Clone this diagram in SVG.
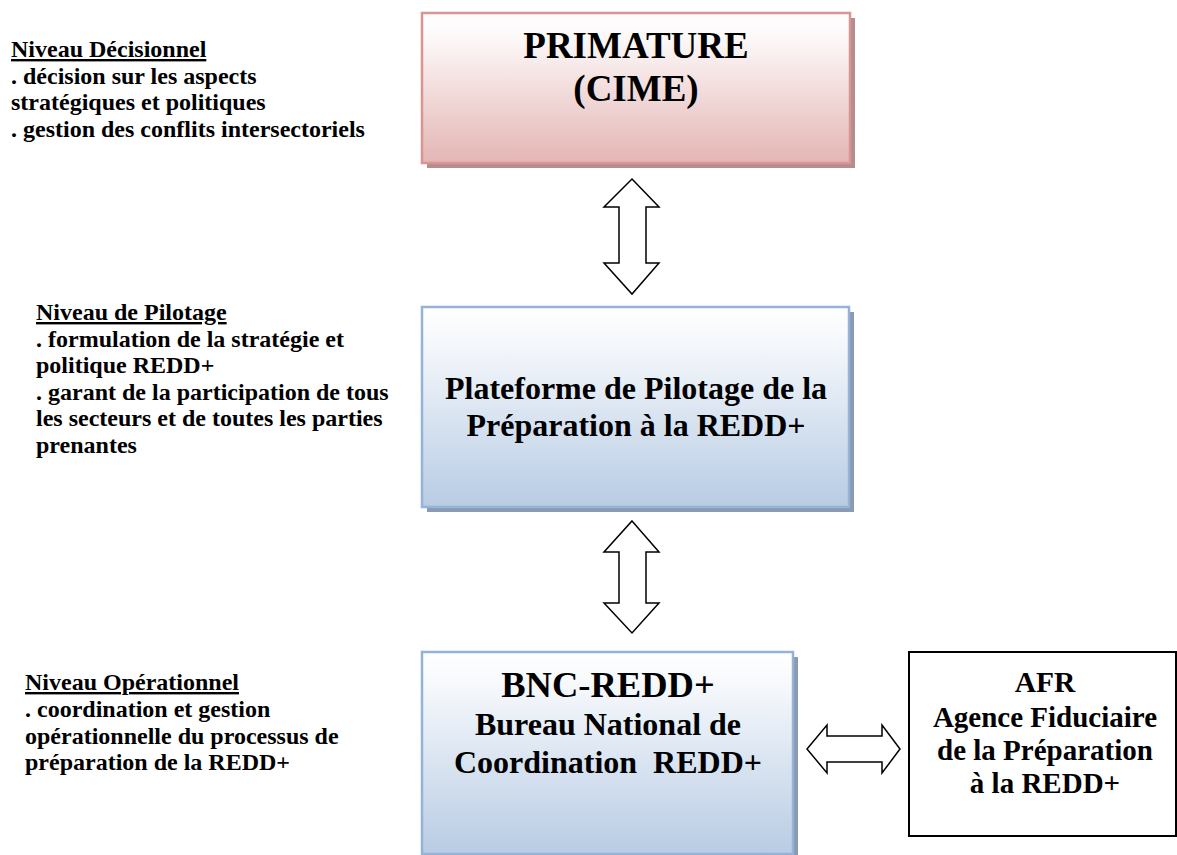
<svg xmlns="http://www.w3.org/2000/svg" width="1177" height="855" viewBox="0 0 1177 855">
  <defs>
    <linearGradient id="gradPink" x1="0" y1="0" x2="0" y2="1">
      <stop offset="0" stop-color="#ffffff"/>
      <stop offset="0.15" stop-color="#fdf9f9"/>
      <stop offset="1" stop-color="#e4b6b5"/>
    </linearGradient>
    <linearGradient id="gradBlue" x1="0" y1="0" x2="0" y2="1">
      <stop offset="0" stop-color="#ffffff"/>
      <stop offset="0.15" stop-color="#f7f9fc"/>
      <stop offset="1" stop-color="#b8cce4"/>
    </linearGradient>
    <style>
      .lbl { font-family: "Liberation Serif", "Times New Roman", serif; font-weight: bold; fill: #000; }
      .side { font-size: 24px; }
      .head { text-decoration: underline; }
      .ctr { text-anchor: middle; }
      .pinkBox { fill: url(#gradPink); stroke: #d99594; stroke-width: 2.5; }
      .pinkShadow { fill: #b48d8c; }
      .blueBox { fill: url(#gradBlue); stroke: #95b3d7; stroke-width: 2.5; }
      .blueShadow { fill: #8a9ab2; }
      .link { fill: #ffffff; stroke: #000; stroke-width: 1.5; stroke-linejoin: miter; }
    </style>
  </defs>

  <rect width="1177" height="855" fill="#ffffff"/>

  <!-- level descriptions on the left -->
  <g id="level-decision">
    <text class="lbl side" x="11" y="57"><tspan class="head">Niveau Décisionnel</tspan></text>
    <text class="lbl side" x="11" y="83.5">. décision sur les aspects</text>
    <text class="lbl side" x="11" y="110">stratégiques et politiques</text>
    <text class="lbl side" x="11" y="136.5">. gestion des conflits intersectoriels</text>
  </g>

  <g id="level-pilotage">
    <text class="lbl side" x="36" y="320"><tspan class="head">Niveau de Pilotage</tspan></text>
    <text class="lbl side" x="36" y="346.5">. formulation de la stratégie et</text>
    <text class="lbl side" x="36" y="373">politique REDD+</text>
    <text class="lbl side" x="36" y="399.5">. garant de la participation de tous</text>
    <text class="lbl side" x="36" y="426">les secteurs et de toutes les parties</text>
    <text class="lbl side" x="36" y="452.5">prenantes</text>
  </g>

  <g id="level-operationnel">
    <text class="lbl side" x="25" y="690"><tspan class="head">Niveau Opérationnel</tspan></text>
    <text class="lbl side" x="25" y="717">. coordination et gestion</text>
    <text class="lbl side" x="25" y="743.5">opérationnelle du processus de</text>
    <text class="lbl side" x="25" y="770">préparation de la REDD+</text>
  </g>

  <!-- PRIMATURE -->
  <g id="primature">
    <rect class="pinkShadow" x="427" y="18" width="428" height="150"/>
    <rect class="pinkBox" x="422" y="13" width="428" height="150"/>
    <text class="lbl ctr" x="636" y="58" font-size="37">PRIMATURE</text>
    <text class="lbl ctr" x="636" y="101" font-size="37">(CIME)</text>
  </g>

  <!-- Plateforme de Pilotage -->
  <g id="plateforme">
    <rect class="blueShadow" x="427" y="312" width="427" height="200"/>
    <rect class="blueBox" x="422" y="307" width="427" height="200"/>
    <text class="lbl ctr" x="636" y="399" font-size="32">Plateforme de Pilotage de la</text>
    <text class="lbl ctr" x="636" y="436" font-size="32">Préparation à la REDD+</text>
  </g>

  <!-- BNC-REDD+ -->
  <g id="bnc">
    <rect class="blueShadow" x="427" y="657" width="371" height="200"/>
    <rect class="blueBox" x="422" y="652" width="371" height="202"/>
    <text class="lbl ctr" x="608" y="697" font-size="36.5">BNC-REDD+</text>
    <text class="lbl ctr" x="608" y="735" font-size="32">Bureau National de</text>
    <text class="lbl ctr" x="608" y="773" font-size="32" xml:space="preserve">Coordination  REDD+</text>
  </g>

  <!-- AFR -->
  <g id="afr">
    <rect x="909" y="652" width="267" height="184" fill="#ffffff" stroke="#000" stroke-width="2"/>
    <text class="lbl ctr" x="1045" y="692" font-size="29.5">AFR</text>
    <text class="lbl ctr" x="1045" y="727" font-size="29">Agence Fiduciaire</text>
    <text class="lbl ctr" x="1045" y="760" font-size="29">de la Préparation</text>
    <text class="lbl ctr" x="1045" y="793" font-size="29">à la REDD+</text>
  </g>

  <!-- double-headed block arrows -->
  <g id="connectors">
    <polygon class="link" points="632,179 659,207 646,207 646,263 659,263 632,294 604,263 619,263 619,207 604,207"/>
    <polygon class="link" points="632,521 659,552 646,552 646,603 659,603 632,633 604,603 619,603 619,552 604,552"/>
    <polygon class="link" points="807,749 827,725 827,736 882,736 882,725 900,749 882,773 882,762 827,762 827,773"/>
  </g>
</svg>
